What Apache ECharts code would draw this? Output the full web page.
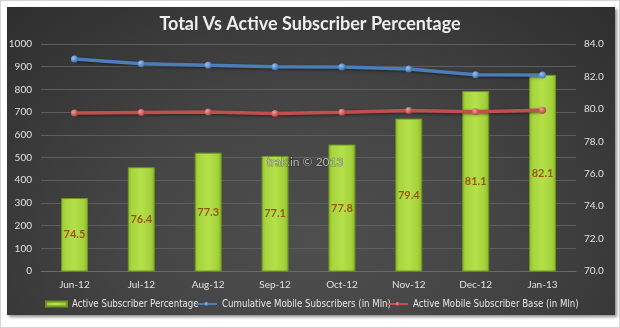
<!DOCTYPE html>
<html>
<head>
<meta charset="utf-8">
<script src="https://cdn.jsdelivr.net/npm/echarts@6/dist/echarts.min.js"></script>
<style>
  html, body { margin: 0; padding: 0; background: #ffffff; }
  #frame { position: absolute; left: 0; top: 0; width: 618px; height: 326px; border: 1px solid #d4d4d4; background: #fff; }
  #panel { position: absolute; left: 7px; top: 7px; width: 608px; height: 308px;
           background: radial-gradient(ellipse at 50% 75%, #4e4e4e 0%, #444 45%, #2e2e2e 100%);
           box-shadow: 2px 2px 3px rgba(0,0,0,0.45); }
  #chart { position: absolute; left: 0; top: 0; width: 620px; height: 328px; }
</style>
</head>
<body>
<div id="frame"></div>
<div id="panel"></div>
<div id="chart"></div>
<script>
// Monthly categories
const months = ['Jun-12', 'Jul-12', 'Aug-12', 'Sep-12', 'Oct-12', 'Nov-12', 'Dec-12', 'Jan-13'];
// Share of subscribers that are active (%), right axis
const activePct = [74.5, 76.4, 77.3, 77.1, 77.8, 79.4, 81.1, 82.1];
// Total mobile subscribers, millions, left axis
const cumulativeSubs = [934, 913, 906, 900, 899, 890, 865, 863];
// Active mobile subscriber base, millions, left axis
const activeSubs = [696, 698, 700, 694, 699, 707, 701, 708];
// Axis ranges
const leftAxis = { min: 0, max: 1000, step: 100 };
const rightAxis = { min: 70, max: 84, step: 2 };

const SERIES_NAMES = [
  'Active Subscriber Percentage',
  'Cumulative Mobile Subscribers (in Mln)',
  'Active Mobile Subscriber Base (in Mln)'
];

const FONT = 'Lato, "Open Sans", sans-serif';
const NARROW = '"DejaVu Sans Condensed", Lato, sans-serif';

function sphere(base, light) {
  return new echarts.graphic.RadialGradient(0.35, 0.35, 0.7, [
    { offset: 0, color: light },
    { offset: 1, color: base }
  ]);
}

// one legend block per series so each entry sits at its own spot
function legendEntry(name, left, icon) {
  const entry = { name: name };
  if (icon) entry.icon = icon;
  return {
    left: left,
    top: 299,
    padding: 0,
    itemWidth: 21,
    itemHeight: 5,
    itemGap: 0,
    textStyle: { color: '#e6e6e6', fontSize: 9.6, fontFamily: NARROW },
    data: [entry]
  };
}

const chart = echarts.init(document.getElementById('chart'), null, { renderer: 'canvas' });

chart.setOption({
  backgroundColor: 'transparent',
  animation: false,
  title: {
    text: 'Total Vs Active Subscriber Percentage',
    left: 'center',
    top: 10,
    textStyle: { color: '#eeeeee', fontSize: 18, fontWeight: 'bold', fontFamily: FONT }
  },
  grid: { left: 41, right: 44, top: 44, bottom: 57, containLabel: false },
  legend: [
    legendEntry(SERIES_NAMES[0], 45, 'rect'),
    legendEntry(SERIES_NAMES[1], 195),
    legendEntry(SERIES_NAMES[2], 386)
  ],
  xAxis: {
    type: 'category',
    data: months,
    axisLine: { show: true, lineStyle: { color: '#6a6a6a' } },
    axisTick: { show: false },
    axisLabel: { color: '#e0e0e0', fontSize: 10, fontFamily: FONT, margin: 9 }
  },
  yAxis: [
    {
      type: 'value',
      min: leftAxis.min, max: leftAxis.max, interval: leftAxis.step,
      axisLine: { show: false }, axisTick: { show: false },
      axisLabel: { color: '#e0e0e0', fontSize: 10, fontFamily: FONT, margin: 9,
                   formatter: v => String(v) },
      splitLine: { show: true, lineStyle: { color: '#5e5e5e', width: 1 } }
    },
    {
      type: 'value',
      min: rightAxis.min, max: rightAxis.max, interval: rightAxis.step,
      axisLine: { show: false }, axisTick: { show: false },
      axisLabel: { color: '#e0e0e0', fontSize: 10, fontFamily: FONT, margin: 8,
                   formatter: v => v.toFixed(1) },
      splitLine: { show: false }
    }
  ],
  series: [
    {
      name: SERIES_NAMES[0],
      type: 'bar',
      yAxisIndex: 1,
      data: activePct,
      barWidth: 27,
      itemStyle: {
        color: new echarts.graphic.LinearGradient(0, 0, 1, 0, [
          { offset: 0, color: '#8fbe2c' },
          { offset: 0.15, color: '#a8d63e' },
          { offset: 0.5, color: '#b4e04a' },
          { offset: 0.85, color: '#a4d23a' },
          { offset: 1, color: '#86b226' }
        ]),
        borderColor: '#6f9420',
        borderWidth: 1
      },
      label: {
        show: true,
        position: 'inside',
        color: '#9a5516',
        fontWeight: 'bold',
        fontSize: 11,
        fontFamily: FONT,
        formatter: p => p.value.toFixed(1)
      },
      z: 2
    },
    {
      name: SERIES_NAMES[1],
      type: 'line',
      yAxisIndex: 0,
      data: cumulativeSubs,
      symbol: 'circle',
      symbolSize: 7,
      lineStyle: { color: '#4a7ebb', width: 3.5, shadowColor: 'rgba(0,0,0,0.5)', shadowBlur: 3, shadowOffsetY: 1 },
      itemStyle: { color: sphere('#3a6db0', '#9cc3f0') },
      z: 3
    },
    {
      name: SERIES_NAMES[2],
      type: 'line',
      yAxisIndex: 0,
      data: activeSubs,
      symbol: 'circle',
      symbolSize: 7,
      lineStyle: { color: '#c0504d', width: 3.5, shadowColor: 'rgba(0,0,0,0.5)', shadowBlur: 3, shadowOffsetY: 1 },
      itemStyle: { color: sphere('#b53a37', '#f0a09c') },
      z: 3
    }
  ],
  graphic: [
    {
      type: 'text',
      left: 266,
      top: 156,
      style: { text: 'trak.in © 2013', fill: '#b8b8b8', fontSize: 12, fontFamily: FONT,
               stroke: 'rgba(0,0,0,0.35)', lineWidth: 1 },
      z: 10
    }
  ]
});
</script>
</body>
</html>
